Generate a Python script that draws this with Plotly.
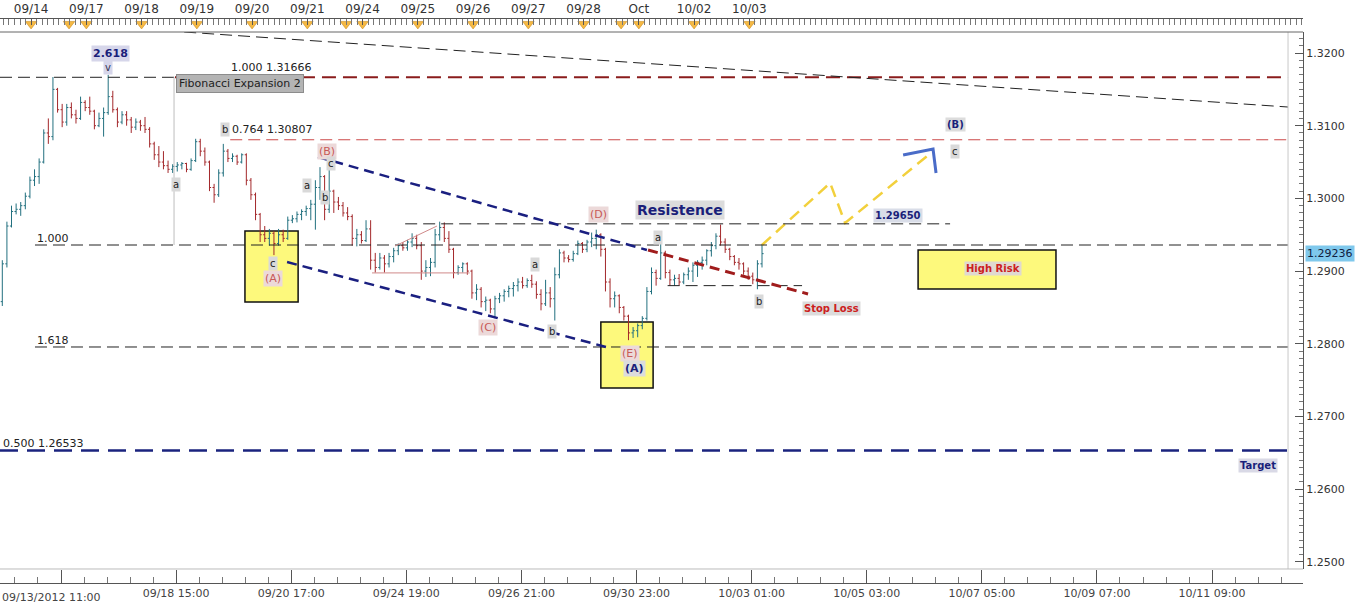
import plotly.graph_objects as go

# ---------------- data ----------------
# bar position = trading-hour index since 09/13/2012 11:00 (2-hour bars)
bar_hour = list(range(1, 332, 2))

opens = [1.2858,1.2910,1.2962,1.2982,1.2985,1.2990,1.3003,1.3025,1.3030,1.3050,
         1.3090,1.3085,1.3150,1.3122,1.3105,1.3125,1.3115,1.3110,1.3132,1.3125,
         1.3120,1.3100,1.3110,1.3118,1.3140,1.3122,1.3105,1.3115,1.3108,1.3098,
         1.3105,1.3100,1.3095,1.3075,1.3060,1.3050,1.3045,1.3040,1.3044,1.3046,
         1.3048,1.3040,1.3052,1.3078,1.3065,1.3050,1.3015,1.3005,1.3035,1.3065,
         1.3055,1.3058,1.3050,1.3060,1.3025,1.3005,1.2978,1.2950,1.2945,1.2952,
         1.2938,1.2950,1.2945,1.2970,1.2972,1.2978,1.2982,1.2986,1.2992,1.3015,
         1.3030,1.2985,1.3010,1.2995,1.2990,1.2980,1.2975,1.2945,1.2950,1.2942,
         1.2958,1.2915,1.2905,1.2918,1.2910,1.2920,1.2928,1.2935,1.2932,1.2940,
         1.2945,1.2935,1.2900,1.2905,1.2912,1.2950,1.2960,1.2945,1.2930,1.2898,
         1.2905,1.2910,1.2900,1.2870,1.2875,1.2858,1.2860,1.2848,1.2862,1.2866,
         1.2872,1.2876,1.2880,1.2885,1.2880,1.2887,1.2882,1.2868,1.2855,1.2870,
         1.2862,1.2895,1.2925,1.2918,1.2916,1.2924,1.2938,1.2930,1.2940,1.2945,
         1.2950,1.2930,1.2885,1.2862,1.2866,1.2850,1.2838,1.2815,1.2818,1.2825,
         1.2835,1.2872,1.2898,1.2890,1.2925,1.2898,1.2888,1.2890,1.2885,1.2895,
         1.2900,1.2908,1.2912,1.2915,1.2928,1.2935,1.2948,1.2940,1.2930,1.2920,
         1.2912,1.2910,1.2900,1.2893,1.2888,1.2910]
highs = [1.2915,1.2968,1.2990,1.2993,1.2995,1.3008,1.3030,1.3040,1.3055,1.3095,
         1.3110,1.3167,1.3152,1.3130,1.3130,1.3132,1.3122,1.3140,1.3135,1.3140,
         1.3122,1.3118,1.3125,1.3170,1.3148,1.3125,1.3120,1.3120,1.3112,1.3110,
         1.3108,1.3112,1.3098,1.3078,1.3072,1.3065,1.3052,1.3047,1.3050,1.3050,
         1.3049,1.3055,1.3082,1.3082,1.3070,1.3052,1.3020,1.3040,1.3075,1.3068,
         1.3062,1.3060,1.3062,1.3062,1.3028,1.3008,1.2980,1.2962,1.2958,1.2955,
         1.2958,1.2957,1.2975,1.2977,1.2982,1.2985,1.2990,1.2998,1.3025,1.3043,
         1.3032,1.3042,1.3012,1.3002,1.2995,1.2988,1.2978,1.2958,1.2955,1.2970,
         1.2970,1.2925,1.2925,1.2922,1.2925,1.2932,1.2938,1.2940,1.2943,1.2952,
         1.2950,1.2940,1.2915,1.2918,1.2958,1.2968,1.2967,1.2955,1.2932,1.2908,
         1.2912,1.2912,1.2902,1.2882,1.2878,1.2865,1.2862,1.2866,1.2870,1.2875,
         1.2880,1.2885,1.2890,1.2892,1.2890,1.2895,1.2886,1.2875,1.2888,1.2878,
         1.2905,1.2930,1.2928,1.2922,1.2928,1.2942,1.2940,1.2943,1.2953,1.2957,
         1.2952,1.2932,1.2890,1.2872,1.2868,1.2852,1.2840,1.2823,1.2828,1.2838,
         1.2878,1.2905,1.2902,1.2943,1.2928,1.2902,1.2895,1.2896,1.2898,1.2905,
         1.2912,1.2915,1.2920,1.2930,1.2940,1.2952,1.2964,1.2945,1.2932,1.2922,
         1.2918,1.2912,1.2905,1.2898,1.2915,1.2937]
lows = [1.2852,1.2905,1.2960,1.2978,1.2976,1.2985,1.3000,1.3017,1.3020,1.3048,
        1.3075,1.3080,1.3118,1.3098,1.3100,1.3110,1.3103,1.3108,1.3120,1.3115,
        1.3095,1.3098,1.3085,1.3115,1.3118,1.3098,1.3102,1.3100,1.3090,1.3094,
        1.3093,1.3090,1.3070,1.3053,1.3043,1.3040,1.3035,1.3035,1.3037,1.3040,
        1.3036,1.3038,1.3050,1.3058,1.3045,1.3010,1.2994,1.3002,1.3030,1.3050,
        1.3050,1.3046,1.3048,1.3018,1.2998,1.2970,1.2940,1.2940,1.2935,1.2922,
        1.2935,1.2940,1.2943,1.2966,1.2967,1.2970,1.2976,1.2970,1.2957,1.2998,
        1.2970,1.2980,1.2980,1.2984,1.2975,1.2970,1.2935,1.2934,1.2938,1.2940,
        1.2902,1.2898,1.2902,1.2898,1.2905,1.2912,1.2922,1.2928,1.2928,1.2933,
        1.2930,1.2888,1.2892,1.2893,1.2905,1.2942,1.2940,1.2925,1.2890,1.2895,
        1.2898,1.2895,1.2862,1.2860,1.2850,1.2845,1.2842,1.2835,1.2856,1.2858,
        1.2864,1.2865,1.2872,1.2876,1.2877,1.2877,1.2862,1.2846,1.2852,1.2850,
        1.2832,1.2890,1.2912,1.2912,1.2913,1.2922,1.2925,1.2926,1.2933,1.2930,
        1.2920,1.2872,1.2850,1.2850,1.2842,1.2832,1.2805,1.2808,1.2809,1.2820,
        1.2832,1.2868,1.2880,1.2888,1.2890,1.2880,1.2880,1.2880,1.2882,1.2888,
        1.2885,1.2892,1.2902,1.2908,1.2920,1.2930,1.2935,1.2925,1.2915,1.2908,
        1.2902,1.2895,1.2888,1.2882,1.2875,1.2905]
closes = [1.2910,1.2962,1.2982,1.2985,1.2990,1.3003,1.3025,1.3030,1.3050,1.3090,
          1.3085,1.3150,1.3122,1.3105,1.3125,1.3115,1.3110,1.3132,1.3125,1.3120,
          1.3100,1.3110,1.3118,1.3140,1.3122,1.3105,1.3115,1.3108,1.3098,1.3105,
          1.3100,1.3095,1.3075,1.3060,1.3050,1.3045,1.3040,1.3044,1.3046,1.3048,
          1.3040,1.3052,1.3078,1.3065,1.3050,1.3015,1.3005,1.3035,1.3065,1.3055,
          1.3058,1.3050,1.3060,1.3025,1.3005,1.2978,1.2950,1.2945,1.2952,1.2938,
          1.2950,1.2945,1.2970,1.2972,1.2978,1.2982,1.2986,1.2992,1.3015,1.3030,
          1.2985,1.3010,1.2995,1.2990,1.2980,1.2975,1.2945,1.2950,1.2942,1.2958,
          1.2915,1.2905,1.2918,1.2910,1.2920,1.2928,1.2935,1.2932,1.2940,1.2945,
          1.2935,1.2900,1.2905,1.2912,1.2950,1.2960,1.2945,1.2930,1.2898,1.2905,
          1.2910,1.2900,1.2870,1.2875,1.2858,1.2860,1.2848,1.2862,1.2866,1.2872,
          1.2876,1.2880,1.2885,1.2880,1.2887,1.2882,1.2868,1.2855,1.2870,1.2862,
          1.2895,1.2925,1.2918,1.2916,1.2924,1.2938,1.2930,1.2940,1.2945,1.2950,
          1.2930,1.2885,1.2862,1.2866,1.2850,1.2838,1.2815,1.2818,1.2825,1.2835,
          1.2872,1.2898,1.2890,1.2925,1.2898,1.2888,1.2890,1.2885,1.2895,1.2900,
          1.2908,1.2912,1.2915,1.2928,1.2935,1.2948,1.2940,1.2930,1.2920,1.2912,
          1.2910,1.2900,1.2893,1.2888,1.2910,1.2924]

top_day_hour = [13.5, 37.5, 61.5, 85.5, 109.5, 133.5, 157.5, 181.5, 205.5, 229.5, 253.5, 277.5, 301.5, 325.5]
top_day_text = ['09/14', '09/17', '09/18', '09/19', '09/20', '09/21', '09/24', '09/25',
                '09/26', '09/27', '09/28', 'Oct', '10/02', '10/03']
event_hour = [13.5, 30.0, 37.5, 61.5, 85.5, 109.5, 133.5, 150.3, 157.5, 181.5, 205.5,
              229.5, 253.5, 269.8, 277.5, 301.5, 325.5]

bottom_tick_hour = [26.5, 76.5, 126.5, 176.5, 226.5, 276.5, 326.5, 376.5, 426.5, 476.5, 526.5]
bottom_tick_text = ['', '09/18 15:00', '09/20 17:00', '09/24 19:00', '09/26 21:00', '09/30 23:00',
                    '10/03 01:00', '10/05 03:00', '10/07 05:00', '10/09 07:00', '10/11 09:00']
first_label = '09/13/2012 11:00'

fib_100_top = 1.31666
fib_0764 = 1.30807
fib_100 = 1.29359
fib_1618 = 1.27956
fib_0500 = 1.26533
resistance = 1.29650
b_level = 1.28800
last_price = 1.29236

proj_hour = [331.0, 360.6, 367.1, 404.9]
proj_price = [1.29359, 1.30212, 1.29662, 1.30638]
mark_hour = [392.3, 405.3, 406.6]
mark_price = [1.30597, 1.30680, 1.30349]

X_MAX = 566.0
X_FRAME = 559.5
Y_MIN, Y_MAX = 1.24902, 1.32289
FONT = 'DejaVu Sans'
NAVY = '#1a1f7a'
RED_LBL = '#c85a58'

fig = go.Figure()

fig.add_trace(go.Ohlc(
    x=bar_hour, open=opens, high=highs, low=lows, close=closes,
    increasing=dict(line=dict(color='#22707f', width=1)),
    decreasing=dict(line=dict(color='#a3282b', width=1)),
    tickwidth=0.35, hoverinfo='skip', showlegend=False, xaxis='x', yaxis='y'))

fig.add_trace(go.Scatter(
    x=proj_hour, y=proj_price, mode='lines', hoverinfo='skip', showlegend=False,
    line=dict(color='#f2d03c', width=2.5, dash='12px,7px')))
fig.add_trace(go.Scatter(
    x=mark_hour, y=mark_price, mode='lines', hoverinfo='skip', showlegend=False,
    line=dict(color='#4a6cc8', width=3)))

# top ruler triangles
fig.add_trace(go.Scatter(
    x=event_hour, y=[0.62] * len(event_hour), mode='markers', xaxis='x2', yaxis='y3',
    hoverinfo='skip', showlegend=False,
    marker=dict(symbol='triangle-down', size=10, color='#f5b944',
                line=dict(color='#cf8f22', width=0.6))))
# dummy for bottom ruler subplot
fig.add_trace(go.Scatter(x=[bottom_tick_hour[0]], y=[0.5], mode='markers', xaxis='x3', yaxis='y4',
                         marker=dict(opacity=0), hoverinfo='skip', showlegend=False))

shapes = []


def hline(y, x0, x1, color, width, dash, layer='above'):
    shapes.append(dict(type='line', xref='x', yref='y', x0=x0, x1=x1, y0=y, y1=y,
                       line=dict(color=color, width=width, dash=dash), layer=layer))


def seg(x0, y0, x1, y1, color, width, dash='solid'):
    shapes.append(dict(type='line', xref='x', yref='y', x0=x0, x1=x1, y0=y0, y1=y1,
                       line=dict(color=color, width=width, dash=dash)))


def box(x0, x1, y0, y1):
    shapes.append(dict(type='rect', xref='x', yref='y', x0=x0, x1=x1, y0=y0, y1=y1,
                       fillcolor='#fdf97c', line=dict(color='#111111', width=1.5), layer='below'))


box(106.4, 129.5, 1.28575, 1.29552)
box(261.0, 283.7, 1.27392, 1.28300)
box(398.8, 458.7, 1.28754, 1.29290)

hline(fib_100_top, 0, 76, '#222222', 1, '12px,6px')
hline(fib_100_top, 76, X_FRAME, '#8a1c1c', 2, '14px,7px')
hline(fib_0764, 100, X_FRAME, '#cc4a4a', 1.2, '12px,6px')
hline(fib_100, 15.2, X_FRAME, '#222222', 1, '12px,6px')
hline(fib_1618, 15.2, X_FRAME, '#222222', 1, '12px,6px')
hline(fib_0500, 0, X_FRAME, '#1a237e', 2.5, '18px,9px')
hline(resistance, 176, 412.7, '#222222', 1, '12px,6px')
hline(b_level, 290, 348.4, '#222222', 1, '12px,6px')
hline(1.28975, 161.6, 204.0, '#d08a8a', 1, 'solid')
seg(171.6, 1.29345, 189.8, 1.29620, '#d08a8a', 1)
seg(80.0, Y_MAX, X_FRAME, 1.31257, '#222222', 1, '12px,6px')
seg(75.6, fib_100_top, 75.6, fib_100, '#bdbdbd', 1)
seg(138.1, 1.30570, 281.0, 1.29290, '#1a1f80', 2.5, '10px,6px')
seg(124.7, 1.29125, 265.0, 1.27942, '#1a1f80', 2.5, '10px,6px')
seg(281.5, 1.29290, 351.0, 1.28685, '#a01c1c', 3, '10px,6px')
# frame
seg(X_FRAME, Y_MIN, X_FRAME, Y_MAX, '#c8c8c8', 1)
shapes.append(dict(type='line', xref='paper', yref='paper', x0=0, x1=1, y0=0.947368, y1=0.947368,
                   line=dict(color='#666666', width=1)))
shapes.append(dict(type='line', xref='paper', yref='paper', x0=0, x1=1, y0=0.064145, y1=0.064145,
                   line=dict(color='#bbbbbb', width=1)))

annotations = []


def label(text, x, y, color='#222222', bg=None, size=10, bold=False, xanchor='center'):
    t = '<b>%s</b>' % text if bold else text
    annotations.append(dict(text=t, x=x, y=y, xref='x', yref='y', showarrow=False,
                            xanchor=xanchor, yanchor='middle',
                            font=dict(family=FONT, size=size, color=color),
                            bgcolor=bg, borderpad=1))


GREY = '#d9d9d9'
label('2.618', 48.2, 1.3200, NAVY, '#d6d6ea', 11, True)
label('v', 46.9, 1.31794, '#333355', '#d6d6ea', 10)
label('1.000 1.31666', 117.7, 1.31794, '#222222', None, 11)
annotations.append(dict(text='Fibonacci Expansion 2', x=104.3, y=1.31574, xref='x', yref='y',
                        showarrow=False, font=dict(family=FONT, size=11, color='#222222'),
                        bgcolor='#b4b4b4', bordercolor='#8c8c8c', borderwidth=1, borderpad=2))
label('0.764 1.30807', 118.2, 1.30941, '#222222', None, 11)
label('b', 97.7, 1.30941, '#222222', GREY, 10)
label('a', 76.5, 1.30198, '#222222', GREY, 10)
label('a', 133.4, 1.30171, '#222222', GREY, 10)
label('b', 141.2, 1.30006, '#222222', GREY, 10)
label('(B)', 142.0, 1.30652, RED_LBL, '#ecd9d9', 11)
label('c', 143.8, 1.30487, '#222222', GREY, 10)
label('c', 118.6, 1.29111, '#222222', GREY, 10)
label('(A)', 118.6, 1.28905, RED_LBL, '#ecd9d9', 11)
label('(C)', 212.0, 1.28231, RED_LBL, '#ecd9d9', 11)
label('a', 232.4, 1.29084, '#222222', GREY, 10)
label('b', 239.8, 1.28176, '#222222', GREY, 10)
label('(D)', 259.8, 1.29785, RED_LBL, '#ecd9d9', 11)
label('Resistence', 295.4, 1.29840, NAVY, '#dcdcdc', 14, True)
label('a', 285.8, 1.29469, '#222222', GREY, 10)
label('b', 329.7, 1.28575, '#222222', GREY, 10)
label('Stop Loss', 361.4, 1.28492, '#cc2020', '#dcdcdc', 10, True)
label('(E)', 273.7, 1.27873, RED_LBL, '#ecd9d9', 11)
label('(A)', 275.4, 1.27667, NAVY, '#dcdcdc', 11, True)
label('(B)', 414.9, 1.31010, NAVY, '#dcdcdc', 10, True)
label('c', 414.9, 1.30652, '#222222', GREY, 10)
label('1.29650', 390.1, 1.29758, NAVY, '#d9dde8', 10, True)
label('High Risk', 431.4, 1.29029, '#cc2020', '#e0d9d0', 10, True)
label('Target', 546.5, 1.26319, NAVY, '#d9d9e6', 10, True)
label('0.500 1.26533', 0.3, 1.26622, '#222222', None, 11, xanchor='left')
label('1.000', 15.2, 1.29442, '#222222', None, 11, xanchor='left')
label('1.618', 15.2, 1.28052, '#222222', None, 11, xanchor='left')

annotations.append(dict(text=first_label, x=0, y=0.018, xref='paper', yref='paper',
                        xanchor='left', yanchor='middle', showarrow=False,
                        font=dict(family=FONT, size=11, color='#444444')))
annotations.append(dict(text='%.5f' % last_price, x=1.0015, y=last_price, xref='paper', yref='y',
                        xanchor='left', yanchor='middle', showarrow=False,
                        font=dict(family=FONT, size=11, color='#102040'),
                        bgcolor='#7fc8ec', borderpad=1))

fig.update_layout(
    width=1360, height=608,
    margin=dict(l=0, r=57, t=0, b=0),
    paper_bgcolor='white', plot_bgcolor='white',
    showlegend=False,
    shapes=shapes, annotations=annotations,
    font=dict(family=FONT, size=11, color='#333333'),
    xaxis=dict(domain=[0, 1], range=[0, X_MAX], anchor='y', showticklabels=False, ticks='',
               showgrid=False, zeroline=False, showline=False, rangeslider=dict(visible=False),
               fixedrange=True),
    yaxis=dict(domain=[0.064145, 0.947368], range=[Y_MIN, Y_MAX], anchor='x', side='right',
               tickmode='linear', tick0=1.25, dtick=0.01, tickformat='.4f',
               ticks='inside', ticklen=8, tickcolor='#555555',
               minor=dict(tickmode='linear', tick0=1.25, dtick=0.001, ticks='inside', ticklen=4,
                          tickcolor='#777777'),
               showline=True, linecolor='#555555', showgrid=False, zeroline=False,
               tickfont=dict(family=FONT, size=11, color='#333333'), fixedrange=True),
    xaxis2=dict(domain=[0, 1], range=[0, X_MAX], anchor='y3', side='top',
                tickmode='array', tickvals=top_day_hour, ticktext=top_day_text,
                ticks='inside', ticklen=6, tickcolor='#555555',
                minor=dict(tickmode='linear', tick0=13.5, dtick=2.4, ticks='inside', ticklen=6,
                           tickcolor='#777777'),
                showline=True, linecolor='#555555', showgrid=False, zeroline=False,
                tickfont=dict(family=FONT, size=12, color='#333333'), fixedrange=True),
    yaxis3=dict(domain=[0.947368, 0.96875], range=[0, 1], anchor='x2', visible=False,
                fixedrange=True),
    xaxis3=dict(domain=[0, 1], range=[0, X_MAX], anchor='y4', side='bottom',
                tickmode='array', tickvals=bottom_tick_hour, ticktext=bottom_tick_text,
                ticks='inside', ticklen=13, tickcolor='#555555',
                minor=dict(tickmode='linear', tick0=6.5, dtick=10, ticks='inside', ticklen=6,
                           tickcolor='#777777'),
                showline=True, linecolor='#555555', showgrid=False, zeroline=False,
                tickfont=dict(family=FONT, size=11, color='#444444'), fixedrange=True),
    yaxis4=dict(domain=[0.041118, 0.064145], range=[0, 1], anchor='x3', visible=False,
                fixedrange=True),
)

fig.write_html('out.html', config={'displayModeBar': False},
               post_script="document.body.style.margin='0';document.body.style.padding='0';")
